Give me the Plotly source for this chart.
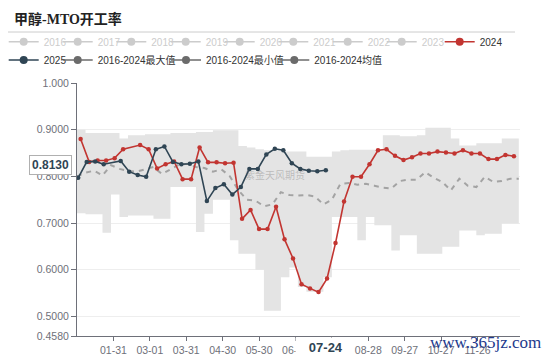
import pandas as pd
import plotly.graph_objects as go

# ---------------- data ----------------
TITLE = "甲醇-MTO开工率"
hidden_years = ["2016", "2017", "2018", "2019", "2020", "2021", "2022", "2023"]

dates_2024 = ["01-04", "01-11", "01-18", "01-25", "02-01", "02-08", "02-22", "02-29",
              "03-07", "03-14", "03-21", "03-28", "04-04", "04-11", "04-18", "04-25",
              "05-02", "05-09", "05-16", "05-23", "05-30", "06-06", "06-13", "06-20",
              "06-27", "07-04", "07-11", "07-18", "07-25", "08-01", "08-08", "08-15",
              "08-22", "08-29", "09-05", "09-12", "09-19", "09-26", "10-03", "10-10",
              "10-17", "10-24", "10-31", "11-07", "11-14", "11-21", "11-28", "12-05",
              "12-12", "12-19", "12-26"]
values_2024 = [0.880, 0.831, 0.834, 0.834, 0.839, 0.858, 0.867, 0.858,
               0.817, 0.826, 0.832, 0.794, 0.794, 0.862, 0.830, 0.830,
               0.828, 0.829, 0.709, 0.728, 0.687, 0.687, 0.735, 0.665,
               0.624, 0.569, 0.560, 0.552, 0.581, 0.657, 0.746, 0.799,
               0.799, 0.826, 0.856, 0.858, 0.844, 0.835, 0.841, 0.849,
               0.849, 0.853, 0.851, 0.849, 0.856, 0.849, 0.849, 0.837,
               0.837, 0.846, 0.843]

dates_2025 = ["01-02", "01-09", "01-16", "01-23", "02-06", "02-13", "02-20", "02-27",
              "03-06", "03-13", "03-20", "03-27", "04-03", "04-10", "04-17", "04-24",
              "05-01", "05-08", "05-15", "05-22", "05-29", "06-05", "06-12", "06-19",
              "06-26", "07-03", "07-10", "07-17", "07-24"]
values_2025 = [0.797, 0.831, 0.832, 0.826, 0.833, 0.810, 0.803, 0.799,
               0.858, 0.864, 0.831, 0.826, 0.827, 0.832, 0.747, 0.775,
               0.783, 0.761, 0.777, 0.816, 0.816, 0.847, 0.859, 0.856,
               0.828, 0.816, 0.812, 0.811, 0.813]

# weekly 2016-2024 statistics (week starting dates from 01-01)
band_weeks = pd.date_range("2024-01-01", periods=53, freq="7D")
band_max = [0.900, 0.893, 0.893, 0.893, 0.893, 0.881, 0.888, 0.888, 0.890, 0.890,
            0.890, 0.893, 0.893, 0.893, 0.895, 0.895, 0.899, 0.899, 0.899, 0.865,
            0.862, 0.858, 0.856, 0.856, 0.853, 0.853, 0.853, 0.842, 0.842, 0.842,
            0.853, 0.856, 0.857, 0.857, 0.857, 0.857, 0.888, 0.888, 0.886, 0.886,
            0.888, 0.904, 0.904, 0.904, 0.881, 0.866, 0.866, 0.871, 0.871, 0.871,
            0.881, 0.881, 0.881]
band_min = [0.721, 0.719, 0.719, 0.679, 0.761, 0.713, 0.716, 0.716, 0.716, 0.709,
            0.709, 0.777, 0.777, 0.777, 0.681, 0.720, 0.750, 0.750, 0.663, 0.634,
            0.634, 0.600, 0.512, 0.512, 0.584, 0.605, 0.563, 0.553, 0.553, 0.584,
            0.713, 0.713, 0.713, 0.663, 0.713, 0.695, 0.695, 0.641, 0.674, 0.674,
            0.634, 0.634, 0.634, 0.649, 0.649, 0.684, 0.684, 0.674, 0.677, 0.677,
            0.699, 0.699, 0.738]
band_avg = [0.800, 0.808, 0.812, 0.802, 0.824, 0.816, 0.812, 0.810, 0.815, 0.820,
            0.805, 0.815, 0.825, 0.827, 0.820, 0.818, 0.810, 0.815, 0.800, 0.770,
            0.750, 0.748, 0.736, 0.740, 0.766, 0.760, 0.759, 0.760, 0.757, 0.740,
            0.750, 0.784, 0.786, 0.782, 0.784, 0.780, 0.776, 0.774, 0.790, 0.793,
            0.793, 0.809, 0.797, 0.788, 0.770, 0.795, 0.780, 0.777, 0.799, 0.788,
            0.790, 0.795, 0.795]

x_tick_labels = ["01-31", "03-01", "03-31", "04-30", "05-30", "06-29", "07-29",
                 "08-28", "09-27", "10-27", "11-26"]
y_tick_vals = [0.458, 0.5, 0.6, 0.7, 0.8, 0.9, 1.0]
y_tick_text = ["0.4580", "0.5000", "0.6000", "0.7000", "0.8000", "0.9000", "1.000"]
pointer_date = "07-24"
pointer_value = 0.8130

# ---------------- styling ----------------
RED = "#c23531"
NAVY = "#2f4554"
STAT = "#6b6b6b"
OFF = "#cccccc"
AXIS = "#6e7079"
FONT = "Liberation Sans, Noto Sans CJK SC, sans-serif"

# the page body adds an 8px margin, so the figure is drawn 8px smaller
OFFSET = 8
WIN_W, WIN_H = 550, 356
W, H = WIN_W - OFFSET, WIN_H - OFFSET
PLOT_L, PLOT_T, PLOT_R, PLOT_B = 77, 83, 520, 336  # screen pixels
ML, MT = PLOT_L - OFFSET, PLOT_T - OFFSET
MR, MB = W - (PLOT_R - OFFSET), H - (PLOT_B - OFFSET)
PW, PH = PLOT_R - PLOT_L, PLOT_B - PLOT_T


def on_axis(mmdd):
    return "2024-" + mmdd


def px_x(p):
    return (p - PLOT_L) / PW


def px_y(p):
    return (PLOT_B - p) / PH


fig = go.Figure()

# min / max band
fig.add_trace(go.Scatter(x=band_weeks, y=band_min, mode="lines", line=dict(width=0, shape="hv"),
                         showlegend=False, hoverinfo="skip", name="2016-2024最小值"))
fig.add_trace(go.Scatter(x=band_weeks, y=band_max, mode="lines", line=dict(width=0, shape="hv"),
                         fill="tonexty", fillcolor="#e4e4e4", showlegend=False, hoverinfo="skip",
                         name="2016-2024最大值"))
# average
fig.add_trace(go.Scatter(x=band_weeks, y=band_avg, mode="lines",
                         line=dict(color="#a3a3a3", width=2, dash="5px,5px"),
                         showlegend=False, name="2016-2024均值"))
# 2024
fig.add_trace(go.Scatter(x=[on_axis(d) for d in dates_2024], y=values_2024, mode="lines+markers",
                         line=dict(color=RED, width=1.6), marker=dict(color=RED, size=4.5),
                         showlegend=False, name="2024"))
# 2025
fig.add_trace(go.Scatter(x=[on_axis(d) for d in dates_2025], y=values_2025, mode="lines+markers",
                         line=dict(color=NAVY, width=1.6), marker=dict(color=NAVY, size=4.5),
                         showlegend=False, name="2025"))

# ---------------- legend (one entry per legend box, placed like the original) ----------------
row1_y, row2_y = 41.7, 60.0
legend_items = []
row1_text_x = [42.7, 96.7, 150.3, 204.7, 258.7, 312.3, 366.7, 420.7]
for yr, tx in zip(hidden_years, row1_text_x):
    legend_items.append((yr, OFF, OFF, tx - 39, row1_y))
legend_items.append(("2024", RED, "#333333", 474.7 - 35, row1_y))
legend_items.append(("2025", NAVY, "#333333", 42.7 - 39, row2_y))
legend_items.append(("2016-2024最大值", STAT, "#333333", 96.7 - 39, row2_y))
legend_items.append(("2016-2024最小值", STAT, "#333333", 205.0 - 39, row2_y))
legend_items.append(("2016-2024均值", STAT, "#333333", 313.3 - 39, row2_y))

legend_layouts = {}
for i, (name, col, fcol, lx, ry) in enumerate(legend_items):
    key = "legend" if i == 0 else f"legend{i + 1}"
    fig.add_trace(go.Scatter(x=[None], y=[None], mode="lines+markers", name=name,
                             line=dict(color=col, width=1.6), marker=dict(color=col, size=8),
                             legend=key, showlegend=True, hoverinfo="skip"))
    legend_layouts[key] = dict(x=px_x(lx), xanchor="left", y=px_y(ry), yanchor="middle",
                               orientation="h", bgcolor="rgba(0,0,0,0)", borderwidth=0,
                               font=dict(family=FONT, size=10, color=fcol),
                               itemclick=False, itemdoubleclick=False)

fig.update_layout(**legend_layouts)

fig.update_layout(
    width=W, height=H,
    margin=dict(l=ML, r=MR, t=MT, b=MB, autoexpand=False),
    paper_bgcolor="white", plot_bgcolor="white",
    font=dict(family=FONT, size=10.5, color="#333"),
    title=dict(text="<b>" + TITLE + "</b>", x=(14 - OFFSET) / W, xanchor="left", xref="container",
               y=1 - (19 - OFFSET) / H, yanchor="middle", yref="container",
               font=dict(family="Liberation Serif, Noto Sans CJK SC, serif", size=14, color="#222")),
    xaxis=dict(type="date", range=["2024-01-01", "2024-12-31"],
               tickvals=[on_axis(t) for t in x_tick_labels], ticktext=x_tick_labels,
               showgrid=False, zeroline=False, showline=True, linecolor=AXIS, linewidth=1,
               ticks="outside", ticklen=4, tickcolor=AXIS,
               tickfont=dict(family=FONT, size=10.5, color=AXIS)),
    yaxis=dict(range=[0.458, 1.0], tickvals=y_tick_vals, ticktext=y_tick_text,
               showgrid=True, gridcolor="#eeeeee", gridwidth=1, zeroline=False,
               showline=True, linecolor=AXIS, linewidth=1,
               ticks="outside", ticklen=5, tickcolor=AXIS,
               tickfont=dict(family=FONT, size=10.5, color=AXIS)),
    hovermode=False,
)

# separator line under the title
fig.add_shape(type="line", xref="paper", yref="paper", x0=px_x(8), x1=px_x(515),
              y0=px_y(32), y1=px_y(32), line=dict(color="#cccccc", width=1))

# watermark of the data provider
fig.add_annotation(text="紫金天风期货", xref="paper", yref="paper", x=px_x(275), y=px_y(175),
                   showarrow=False, font=dict(family=FONT, size=10, color="rgba(110,110,110,0.35)"))

# axis-pointer labels
fig.add_annotation(text="<b>%.4f</b>" % pointer_value, xref="paper", yref="y", x=0, y=pointer_value,
                   xanchor="right", yanchor="middle", xshift=-5, yshift=5, showarrow=False,
                   bgcolor="white", bordercolor="#b0b0b0", borderwidth=1, borderpad=2,
                   font=dict(family=FONT, size=12, color=NAVY))
fig.add_annotation(text="&nbsp;&nbsp;&nbsp;<b>" + pointer_date + "</b>&nbsp;", xref="x", yref="paper",
                   x=on_axis(pointer_date), y=0, xanchor="center", yanchor="top",
                   xshift=-3.5, yshift=-1, showarrow=False, bgcolor="white", borderpad=2,
                   font=dict(family=FONT, size=13, color=NAVY))

# site watermark in the lower right corner
fig.add_annotation(text="www.365jz.com", xref="paper", yref="paper", x=px_x(485), y=px_y(342),
                   xanchor="center", yanchor="middle", showarrow=False,
                   font=dict(family="Liberation Serif, serif", size=17, color="#22398c"))

fig.write_html("out.html")
